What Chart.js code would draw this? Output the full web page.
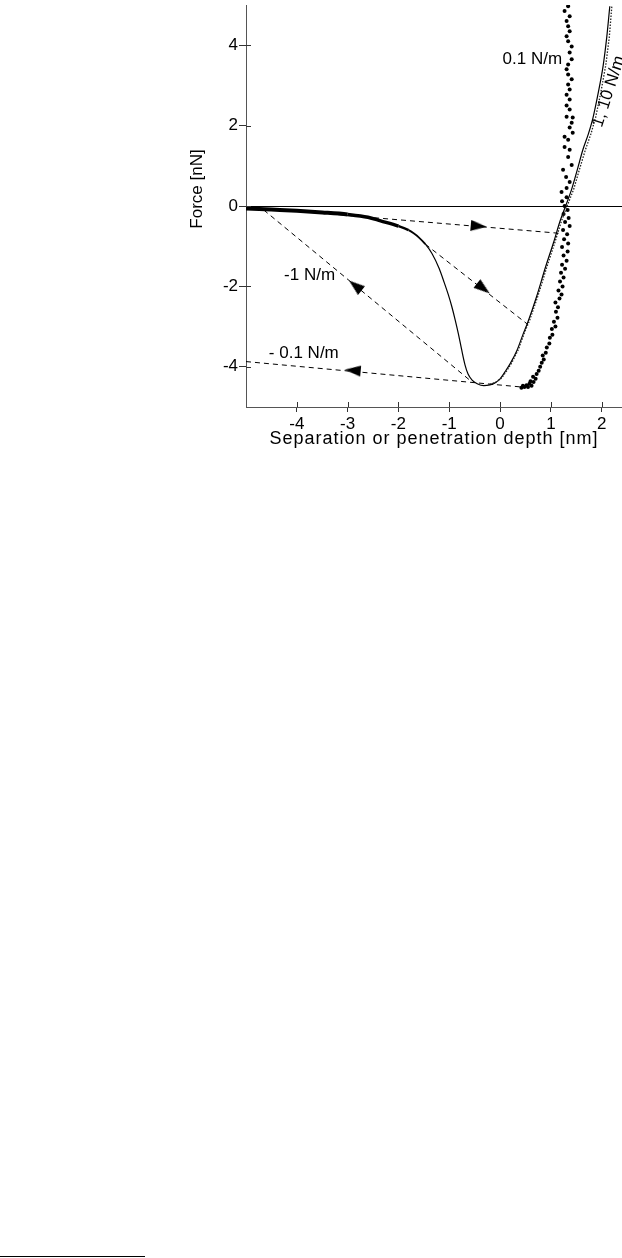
<!DOCTYPE html>
<html>
<head>
<meta charset="utf-8">
<script src="https://cdn.jsdelivr.net/npm/chart.js@4/dist/chart.umd.min.js"></script>
<style>
  html, body { margin: 0; padding: 0; background: #fff; }
  body { width: 622px; height: 1258px; position: relative; overflow: hidden; }
  #c { position: absolute; left: 0; top: 0; }
  #rule { position: absolute; left: 0; top: 1256px; width: 145px; height: 1px; background: #000; }
</style>
</head>
<body>
<canvas id="c" width="622" height="450"></canvas>
<div id="rule"></div>
<script>
// ---- data ----
const xTicks = [-4, -3, -2, -1, 0, 1, 2];
const yTicks = [-4, -2, 0, 2, 4];
const xTitle = 'Separation or penetration depth [nm]';
const yTitle = 'Force [nN]';

// 1 N/m approach / indentation curve (solid)
const curve1 = [
  [-5, -0.06], [-4.5, -0.09], [-4, -0.12], [-3.5, -0.16], [-3, -0.21], [-2.6, -0.28],
  [-2.35, -0.37], [-2, -0.5], [-1.8, -0.6], [-1.7, -0.68], [-1.6, -0.78], [-1.47, -0.95],
  [-1.34, -1.18], [-1.2, -1.55], [-1.1, -1.9], [-1.02, -2.2], [-0.95, -2.5],
  [-0.88, -2.85], [-0.82, -3.18], [-0.76, -3.55], [-0.69, -3.95], [-0.63, -4.18],
  [-0.55, -4.33], [-0.45, -4.42], [-0.32, -4.47], [-0.2, -4.45], [-0.1, -4.4],
  [0, -4.3], [0.1, -4.12], [0.2, -3.92], [0.33, -3.6], [0.45, -3.2], [0.55, -2.88],
  [0.72, -2.25], [0.9, -1.5], [1.05, -0.92], [1.18, -0.38], [1.29, 0], [1.41, 0.42],
  [1.52, 0.9], [1.63, 1.4], [1.74, 1.8], [1.83, 2.2], [1.93, 2.8], [2.03, 3.5],
  [2.1, 4.2], [2.16, 4.97]
];

// 10 N/m curve (fine dots, nearly on top of the 1 N/m curve)
const curve10 = [
  [-0.2, -4.44], [-0.08, -4.38], [0.03, -4.28], [0.13, -4.1], [0.23, -3.9], [0.36, -3.57],
  [0.48, -3.15], [0.58, -2.85], [0.75, -2.22], [0.93, -1.48], [1.08, -0.9],
  [1.21, -0.37], [1.32, 0], [1.45, 0.42], [1.56, 0.9], [1.68, 1.4], [1.79, 1.8],
  [1.88, 2.2], [1.98, 2.8], [2.08, 3.5], [2.15, 4.2], [2.2, 4.97]
];

// 0.1 N/m curve (large dots)
const curve01 = [
  [0.42, -4.52], [0.45, -4.47], [0.48, -4.5], [0.52, -4.46], [0.55, -4.5], [0.58, -4.42],
  [0.62, -4.47], [0.6, -4.36], [0.66, -4.38], [0.7, -4.3], [0.65, -4.25], [0.72, -4.18],
  [0.76, -4.1], [0.79, -4.0], [0.82, -3.9], [0.86, -3.82], [0.84, -3.72], [0.9, -3.65],
  [0.92, -3.52], [0.97, -3.42], [0.98, -3.28], [1.03, -3.2], [1.02, -3.06], [1.09, -3.0],
  [1.06, -2.88], [1.13, -2.78], [1.1, -2.63], [1.14, -2.52], [1.09, -2.4], [1.17, -2.3],
  [1.21, -2.2], [1.15, -2.1], [1.23, -2.0], [1.18, -1.88], [1.25, -1.78], [1.2, -1.66],
  [1.28, -1.56], [1.22, -1.46], [1.31, -1.36], [1.25, -1.23], [1.33, -1.13], [1.22, -1.02],
  [1.34, -0.93], [1.26, -0.83], [1.32, -0.7], [1.24, -0.6], [1.37, -0.5], [1.28, -0.4],
  [1.35, -0.3], [1.25, -0.2], [1.33, -0.1], [1.27, 0.0], [1.22, 0.12], [1.31, 0.22],
  [1.21, 0.35], [1.31, 0.45], [1.37, 0.6], [1.3, 0.72], [1.24, 0.9], [1.41, 1.02],
  [1.34, 1.22], [1.37, 1.4], [1.27, 1.47], [1.34, 1.65], [1.27, 1.72], [1.43, 1.82],
  [1.37, 1.95], [1.41, 2.07], [1.43, 2.2], [1.31, 2.22], [1.37, 2.4], [1.31, 2.5],
  [1.37, 2.65], [1.31, 2.77], [1.37, 2.9], [1.34, 3.02], [1.41, 3.15], [1.34, 3.27],
  [1.31, 3.4], [1.34, 3.52], [1.41, 3.65], [1.37, 3.82], [1.41, 3.97], [1.34, 4.1],
  [1.31, 4.22], [1.37, 4.35], [1.34, 4.47], [1.31, 4.6], [1.37, 4.72], [1.27, 4.85],
  [1.34, 4.97]
];

// dashed jump lines
const jumpA = [[-4.95, -0.03], [1.18, -0.68]];
const jumpB = [[-1.47, -0.95], [0.55, -2.95]];
const jumpC = [[-4.65, -0.1], [-0.55, -4.38]];
const jumpD = [[-5, -3.87], [0.4, -4.5]];

// arrow heads on the dashed lines (position and direction in degrees)
const arrowPoints = [[-0.42, -0.5], [-0.33, -2.05], [-2.85, -1.98], [-2.9, -4.09]];
const arrowAngles = [95, 128, 309, 275];

// text annotations [text, x, y]
const notes = [
  ['0.1 N/m', 1.22, 3.65],
  ['1, 10 N/m', 2.14, 2.85],
  ['-1 N/m', -4.25, -1.72],
  ['- 0.1 N/m', -4.55, -3.67]
];

// ---- chart ----
const FONT = "'Liberation Sans', Arial, Helvetica, sans-serif";
const pts = a => a.map(p => ({ x: p[0], y: p[1] }));

// elongated arrowhead image (points up; rotated by the point rotation)
const arrowImg = (() => {
  const c = document.createElement('canvas');
  c.width = 11; c.height = 16;
  const g = c.getContext('2d');
  g.fillStyle = '#000';
  g.beginPath(); g.moveTo(5.5, 0); g.lineTo(11, 16); g.lineTo(0, 16); g.closePath(); g.fill();
  return c;
})();

const decor = {
  id: 'decor',
  afterDraw(chart) {
    const { ctx, chartArea: ca, scales: { x, y } } = chart;
    ctx.save();
    // inner tick marks
    ctx.strokeStyle = '#333';
    ctx.lineWidth = 1;
    ctx.beginPath();
    xTicks.forEach(v => { const px = Math.round(x.getPixelForValue(v)) + 0.5; ctx.moveTo(px, ca.bottom); ctx.lineTo(px, ca.bottom - 5); });
    yTicks.forEach(v => { const py = Math.round(y.getPixelForValue(v)) + 0.5; ctx.moveTo(ca.left, py); ctx.lineTo(ca.left + 5, py); });
    ctx.stroke();

    ctx.fillStyle = '#000';
    ctx.font = '17px ' + FONT;
    ctx.textBaseline = 'middle';
    // annotations
    notes.forEach(([t, vx, vy], i) => {
      const px = x.getPixelForValue(vx), py = y.getPixelForValue(vy);
      ctx.save();
      ctx.translate(px, py);
      if (i === 0) { ctx.textAlign = 'right'; }
      else if (i === 1) { ctx.rotate(-72 * Math.PI / 180); ctx.textAlign = 'center'; }
      else { ctx.textAlign = 'left'; }
      ctx.fillText(t, 0, 0);
      ctx.restore();
    });
    // axis titles
    ctx.textAlign = 'center';
    ctx.save();
    ctx.font = '18px ' + FONT;
    if ('letterSpacing' in ctx) ctx.letterSpacing = '1px';
    ctx.fillText(xTitle, (ca.left + ca.right) / 2, ca.bottom + 32);
    ctx.restore();
    ctx.save();
    ctx.translate(ca.left - 49, (ca.top + ca.bottom) / 2 - 17);
    ctx.rotate(-Math.PI / 2);
    ctx.fillText(yTitle, 0, 0);
    ctx.restore();
    ctx.restore();
  }
};

const dashed = d => ({
  data: pts(d), showLine: true, borderColor: '#000', borderWidth: 1,
  borderDash: [5, 4], pointRadius: 0, fill: false
});

new Chart(document.getElementById('c'), {
  type: 'scatter',
  plugins: [decor],
  data: {
    datasets: [
      dashed(jumpA), dashed(jumpB), dashed(jumpC), dashed(jumpD),
      {
        data: pts(curve10), showLine: true, borderColor: '#222', borderWidth: 1.3,
        borderDash: [1.5, 1.5], pointRadius: 0
      },
      {
        data: pts(curve1), showLine: true, borderColor: '#000', pointRadius: 0,
        borderWidth: 1.2, cubicInterpolationMode: 'monotone',
        segment: {
          borderWidth: c => {
            const v = c.p0.parsed.x;
            return v < -3 ? 4 : v < -2.3 ? 3.5 : v < -1.8 ? 2.6 : v < -1.5 ? 1.8 : 1.2;
          }
        }
      },
      {
        data: pts(curve01), showLine: false, pointRadius: 2, pointBackgroundColor: '#000',
        pointBorderWidth: 0, pointBorderColor: '#000'
      },
      {
        data: pts(arrowPoints), showLine: false, pointStyle: arrowImg, pointRadius: 8,
        pointRotation: arrowAngles
      }
    ]
  },
  options: {
    responsive: false,
    animation: false,
    events: [],
    layout: { autoPadding: false, padding: { top: 5, right: 0, left: 0, bottom: 0 } },
    plugins: { legend: { display: false }, tooltip: { enabled: false } },
    scales: {
      x: {
        type: 'linear', min: -5, max: 2.4,
        afterBuildTicks: s => { s.ticks = xTicks.map(v => ({ value: v })); },
        afterFit: s => {
          s.height = 43; s.paddingLeft = 0; s.paddingRight = 0;
          if (s._margins) { s._margins.right = 0; }
        },
        ticks: { color: '#000', font: { size: 17, family: FONT }, padding: 2, maxRotation: 0, autoSkip: false },
        grid: { drawOnChartArea: false, tickLength: 5, tickColor: '#333' },
        border: { color: '#555', width: 1 }
      },
      y: {
        type: 'linear', min: -5, max: 5,
        afterBuildTicks: s => { s.ticks = yTicks.map(v => ({ value: v })); },
        afterFit: s => { s.width = 246; s.paddingTop = 0; s.paddingBottom = 0; },
        ticks: { color: '#000', font: { size: 17, family: FONT }, padding: 1, autoSkip: false },
        grid: {
          drawOnChartArea: true, tickLength: 7, tickColor: '#333',
          color: c => (c.tick && c.tick.value === 0) ? '#000' : 'rgba(0,0,0,0)', lineWidth: 1
        },
        border: { color: '#555', width: 1 }
      }
    }
  }
});
</script>
</body>
</html>
